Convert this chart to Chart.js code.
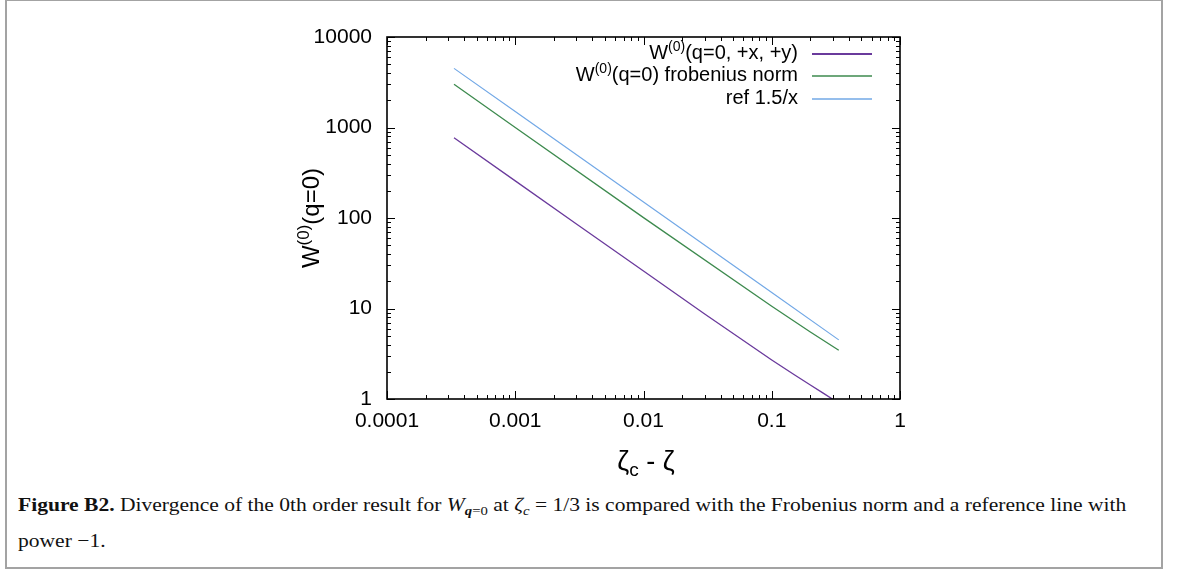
<!DOCTYPE html>
<html>
<head>
<meta charset="utf-8">
<script src="https://cdn.jsdelivr.net/npm/chart.js@4"></script>
<style>
html, body { margin: 0; padding: 0; background: #fff; }
#frame { position: absolute; left: 5px; top: 0; width: 1154px; height: 566px; border: 2px solid #a3a3a3; border-top-width: 1px; }
#wrap { position: absolute; left: 0; top: 0; width: 1179px; height: 485px; }
#caption { position: absolute; left: 18px; top: 487px; font-family: "Liberation Serif", serif; font-size: 19px; color: #111; white-space: nowrap; line-height: 36px; }
#caption div { transform-origin: 0 50%; }
#caption sub { font-size: 13px; vertical-align: -4px; line-height: 0; }
</style>
</head>
<body>
<div id="frame"></div>
<div id="wrap"><canvas id="chart" width="1179" height="485"></canvas></div>
<div id="caption">
  <div id="l1"><b>Figure B2.</b> Divergence of the 0th order result for <i>W</i><sub><b><i>q</i></b>=0</sub> at <i>ζ<sub>c</sub></i> = 1/3 is compared with the Frobenius norm and a reference line with</div>
  <div id="l2">power −1.</div>
</div>
<script>
// DATA
const xW = [0.000333, 0.001, 0.003, 0.01, 0.03, 0.05, 0.1, 0.15, 0.2, 0.25, 0.333];
const yW = [770, 257, 86, 26, 8.7, 5.3, 2.7, 1.85, 1.43, 1.17, 0.9];
const xFrob = [0.000333, 0.001, 0.01, 0.1, 0.2, 0.333];
const yFrob = [3000, 1000, 101, 10.6, 5.5, 3.45];
const xRef = [0.000333, 0.001, 0.01, 0.1, 0.333];
const yRef = [4500, 1500, 150, 15, 4.5];
const xTicks = [0.0001, 0.001, 0.01, 0.1, 1];
const yTicks = [1, 10, 100, 1000, 10000];
const xTickLabels = ["0.0001", "0.001", "0.01", "0.1", "1"];
const yTickLabels = ["1", "10", "100", "1000", "10000"];

const colors = ["#6a3a9c", "#3d8a4e", "#72a8e6"];
const FONT = '"Liberation Sans", Arial, sans-serif';

// PLOT BOX
const box = { left: 387, right: 900, top: 37, bottom: 399 };
const canvasH = 485;

function toPoints(xs, ys) {
    return xs.map((x, i) => ({ x: x, y: ys[i] }));
}

// major + minor ticks for a log axis
function logTicks(majors) {
    const out = [];
    majors.forEach((m, i) => {
        out.push({ value: m, major: true, idx: i });
        if (i < majors.length - 1) {
            for (let k = 2; k <= 9; k++) out.push({ value: m * k, major: false });
        }
    });
    return out;
}

// text with (sup) / (sub) pieces
function smallSize(size) { return Math.round(size * 0.72); }
function richWidth(ctx, parts, size) {
    let w = 0;
    parts.forEach(p => {
        ctx.font = (p.sup || p.sub ? smallSize(size) : size) + "px " + FONT;
        w += ctx.measureText(p.t).width;
    });
    return w;
}
function richText(ctx, parts, x, y, size, align) {
    const w = richWidth(ctx, parts, size);
    let cx = align === "right" ? x - w : align === "center" ? x - w / 2 : x;
    ctx.textBaseline = "middle";
    ctx.textAlign = "left";
    parts.forEach(p => {
        const s = p.sup || p.sub ? smallSize(size) : size;
        ctx.font = s + "px " + FONT;
        const dy = p.sup ? -size * 0.3 : p.sub ? size * 0.3 : 0;
        ctx.fillText(p.t, cx, y + dy);
        cx += ctx.measureText(p.t).width;
    });
}

const legendItems = [
    [{ t: "W" }, { t: "(0)", sup: true }, { t: "(q=0, +x, +y)" }],
    [{ t: "W" }, { t: "(0)", sup: true }, { t: "(q=0) frobenius norm" }],
    [{ t: "ref 1.5/x" }]
];

const decorPlugin = {
    id: "decor",
    afterDraw(chart) {
        const ctx = chart.ctx;
        const a = chart.chartArea;
        const xs = chart.scales.x, ys = chart.scales.y;
        ctx.save();
        ctx.strokeStyle = "#000";
        ctx.fillStyle = "#000";

        // inward ticks on all four sides
        ctx.lineWidth = 1;
        ctx.beginPath();
        xs.ticks.forEach(t => {
            const p = Math.round(xs.getPixelForValue(t.value)) + 0.5;
            const len = t.major ? 8 : 4;
            ctx.moveTo(p, a.bottom); ctx.lineTo(p, a.bottom - len);
            ctx.moveTo(p, a.top); ctx.lineTo(p, a.top + len);
        });
        ys.ticks.forEach(t => {
            const p = Math.round(ys.getPixelForValue(t.value)) + 0.5;
            const len = t.major ? 8 : 4;
            ctx.moveTo(a.left, p); ctx.lineTo(a.left + len, p);
            ctx.moveTo(a.right, p); ctx.lineTo(a.right - len, p);
        });
        ctx.stroke();

        // border
        ctx.lineWidth = 1.6;
        ctx.strokeRect(a.left, a.top, a.right - a.left, a.bottom - a.top);

        // legend
        const rows = [53, 75, 98];
        legendItems.forEach((parts, i) => {
            richText(ctx, parts, 798, rows[i], 20, "right");
            ctx.strokeStyle = colors[i];
            ctx.lineWidth = i === 0 ? 1.8 : 1.3;
            ctx.beginPath();
            ctx.moveTo(812, rows[i] + 1);
            ctx.lineTo(872, rows[i] + 1);
            ctx.stroke();
        });

        // axis titles
        ctx.fillStyle = "#000";
        richText(ctx, [{ t: "ζ" }, { t: "c", sub: true }, { t: " - ζ" }], 646, 463, 27, "center");
        ctx.translate(312, (a.top + a.bottom) / 2);
        ctx.rotate(-Math.PI / 2);
        richText(ctx, [{ t: "W" }, { t: "(0)", sup: true }, { t: "(q=0)" }], 0, 0, 24, "center");
        ctx.restore();
    }
};

new Chart(document.getElementById("chart"), {
    type: "line",
    data: {
        datasets: [
            { data: toPoints(xW, yW), borderColor: colors[0], borderWidth: 1.3 },
            { data: toPoints(xFrob, yFrob), borderColor: colors[1], borderWidth: 1.3 },
            { data: toPoints(xRef, yRef), borderColor: colors[2], borderWidth: 1.2 }
        ]
    },
    options: {
        responsive: false,
        animation: false,
        parsing: false,
        elements: { point: { radius: 0 }, line: { tension: 0, fill: false } },
        layout: { padding: { left: 0, top: box.top, right: 1179 - box.right, bottom: 0 } },
        plugins: { legend: { display: false }, tooltip: { enabled: false } },
        scales: {
            x: {
                type: "logarithmic",
                min: xTicks[0],
                max: xTicks[xTicks.length - 1],
                grid: { display: false, drawTicks: false },
                border: { display: false },
                afterBuildTicks: s => { s.ticks = logTicks(xTicks); },
                afterFit: s => { s.height = canvasH - box.bottom; },
                ticks: {
                    autoSkip: false,
                    maxRotation: 0,
                    padding: 10,
                    color: "#000",
                    font: { family: FONT, size: 21 },
                    callback: (v, i, ticks) => ticks[i].major ? xTickLabels[ticks[i].idx] : ""
                }
            },
            y: {
                type: "logarithmic",
                min: yTicks[0],
                max: yTicks[yTicks.length - 1],
                grid: { display: false, drawTicks: false },
                border: { display: false },
                afterBuildTicks: s => { s.ticks = logTicks(yTicks); },
                afterFit: s => { s.width = box.left; },
                ticks: {
                    autoSkip: false,
                    padding: 15,
                    color: "#000",
                    font: { family: FONT, size: 21 },
                    callback: (v, i, ticks) => ticks[i].major ? yTickLabels[ticks[i].idx] : ""
                }
            }
        }
    },
    plugins: [decorPlugin]
});

// squeeze caption lines to the width of the original
const l1 = document.getElementById("l1");
const l2 = document.getElementById("l2");
const sx = 1108 / l1.scrollWidth;
l1.style.transform = `scaleX(${sx})`;
l2.style.transform = `scaleX(${sx})`;
</script>
</body>
</html>
